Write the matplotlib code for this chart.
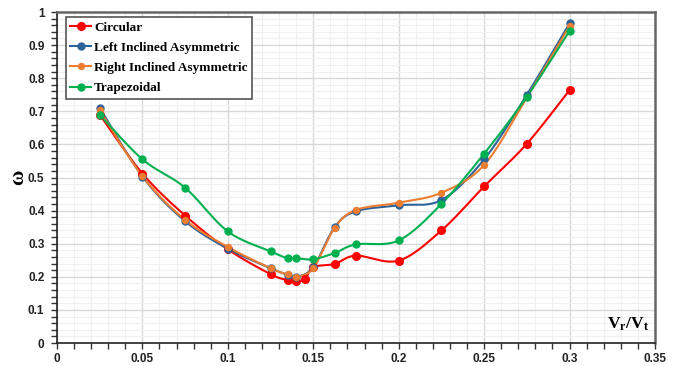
import numpy as np
import matplotlib.pyplot as plt
from matplotlib.ticker import MultipleLocator

plt.rcParams['mathtext.fontset'] = 'custom'
plt.rcParams['mathtext.bf'] = 'Liberation Serif:bold'
plt.rcParams['mathtext.rm'] = 'Liberation Serif:bold'

# 数据
x_circ = [0.025, 0.05, 0.075, 0.1, 0.125, 0.135, 0.14, 0.145, 0.15, 0.1625, 0.175, 0.2, 0.225, 0.25, 0.275, 0.3]
y_circ = [0.690, 0.512, 0.385, 0.283, 0.208, 0.190, 0.187, 0.192, 0.229, 0.239, 0.264, 0.249, 0.340, 0.473, 0.602, 0.764]

x_other = [0.025, 0.05, 0.075, 0.1, 0.125, 0.135, 0.14, 0.15, 0.1625, 0.175, 0.2, 0.225, 0.25, 0.275, 0.3]
y_left = [0.711, 0.503, 0.368, 0.285, 0.226, 0.206, 0.199, 0.229, 0.350, 0.398, 0.416, 0.432, 0.555, 0.750, 0.966]
y_right = [0.704, 0.504, 0.372, 0.290, 0.226, 0.207, 0.200, 0.226, 0.348, 0.402, 0.424, 0.454, 0.538, 0.742, 0.958]
y_trap = [0.690, 0.555, 0.469, 0.337, 0.277, 0.256, 0.256, 0.253, 0.272, 0.298, 0.310, 0.420, 0.572, 0.744, 0.943]

labels = ['Circular', 'Left Inclined Asymmetric', 'Right Inclined Asymmetric', 'Trapezoidal']


def smooth(xs, ys, n=30):
    # Excel 平滑线：Catmull-Rom 样条
    p = np.column_stack([xs, ys])
    p = np.vstack([p[0], p, p[-1]])
    out = []
    t = np.linspace(0, 1, n)[:, None]
    for i in range(1, len(p) - 2):
        p0, p1, p2, p3 = p[i - 1], p[i], p[i + 1], p[i + 2]
        c1 = p1 + (p2 - p0) / 6
        c2 = p2 - (p3 - p1) / 6
        seg = (1 - t) ** 3 * p1 + 3 * (1 - t) ** 2 * t * c1 + 3 * (1 - t) * t ** 2 * c2 + t ** 3 * p2
        out.append(seg)
    out = np.vstack(out)
    return out[:, 0], out[:, 1]


fig = plt.figure(figsize=(6.94, 3.66), dpi=100)
ax = fig.add_axes([0.0821, 0.0628, 0.8617, 0.9044])

series = [
    (x_circ, y_circ, '#FF0000', 5.5),
    (x_other, y_left, '#2E6399', 5),
    (x_other, y_right, '#ED7D31', 4.3),
    (x_other, y_trap, '#00B050', 5),
]
for (xs, ys, c, ms), lab in zip(series, labels):
    sx, sy = smooth(xs, ys)
    ax.plot(sx, sy, color=c, lw=1.5, zorder=3)
    ax.plot(xs, ys, 'o', color=c, ms=ms, zorder=4)
    ax.plot([], [], '-o', color=c, lw=1.5, ms=ms, label=lab)

ax.set_xlim(0, 0.35)
ax.set_ylim(0, 1)
ax.xaxis.set_major_locator(MultipleLocator(0.05))
ax.xaxis.set_minor_locator(MultipleLocator(0.01))
ax.yaxis.set_major_locator(MultipleLocator(0.1))
ax.yaxis.set_minor_locator(MultipleLocator(0.02))
ax.grid(which='major', color='#D9D9D9', lw=1.0, zorder=0)
ax.grid(which='minor', color='#F0F0F0', lw=0.8, zorder=0)
ax.set_axisbelow(True)

ax.set_xticks(np.arange(0, 0.351, 0.05))
ax.set_xticklabels(['0', '0.05', '0.1', '0.15', '0.2', '0.25', '0.3', '0.35'])
ax.set_yticks(np.arange(0, 1.01, 0.1))
ax.set_yticklabels(['0', '0.1', '0.2', '0.3', '0.4', '0.5', '0.6', '0.7', '0.8', '0.9', '1'])
ax.tick_params(which='both', direction='out', length=4, width=1, color='#333333',
               labelsize=8.5)
ax.tick_params(axis='x', pad=3)
ax.tick_params(axis='y', pad=5)
for lab in ax.get_xticklabels() + ax.get_yticklabels():
    lab.set_fontweight('bold')
    lab.set_family('Liberation Sans')
    lab.set_color('#222222')

for s in ['left', 'bottom']:
    ax.spines[s].set_color('#222222')
    ax.spines[s].set_linewidth(1.2)
for s in ['top', 'right']:
    ax.spines[s].set_color('#666666')
    ax.spines[s].set_linewidth(1.8)

ax.set_ylabel('ω', fontsize=15, fontweight='bold', family='Liberation Serif')
ax.yaxis.set_label_coords(-0.048, 0.5)
ax.text(0.99, 0.03, r'$\mathbf{V_r/V_t}$', transform=ax.transAxes,
        ha='right', va='bottom', fontsize=12.5)

leg = ax.legend(loc='upper left', bbox_to_anchor=(0.008, 0.997), fancybox=False,
                edgecolor='#555555', framealpha=1, handlelength=1.6,
                handletextpad=0.2, borderpad=0.35, borderaxespad=0.3, labelspacing=0.6,
                prop={'family': 'Liberation Serif', 'weight': 'bold', 'size': 9.5})
leg.get_frame().set_linewidth(1.2)

plt.savefig('out.png', dpi=100)
